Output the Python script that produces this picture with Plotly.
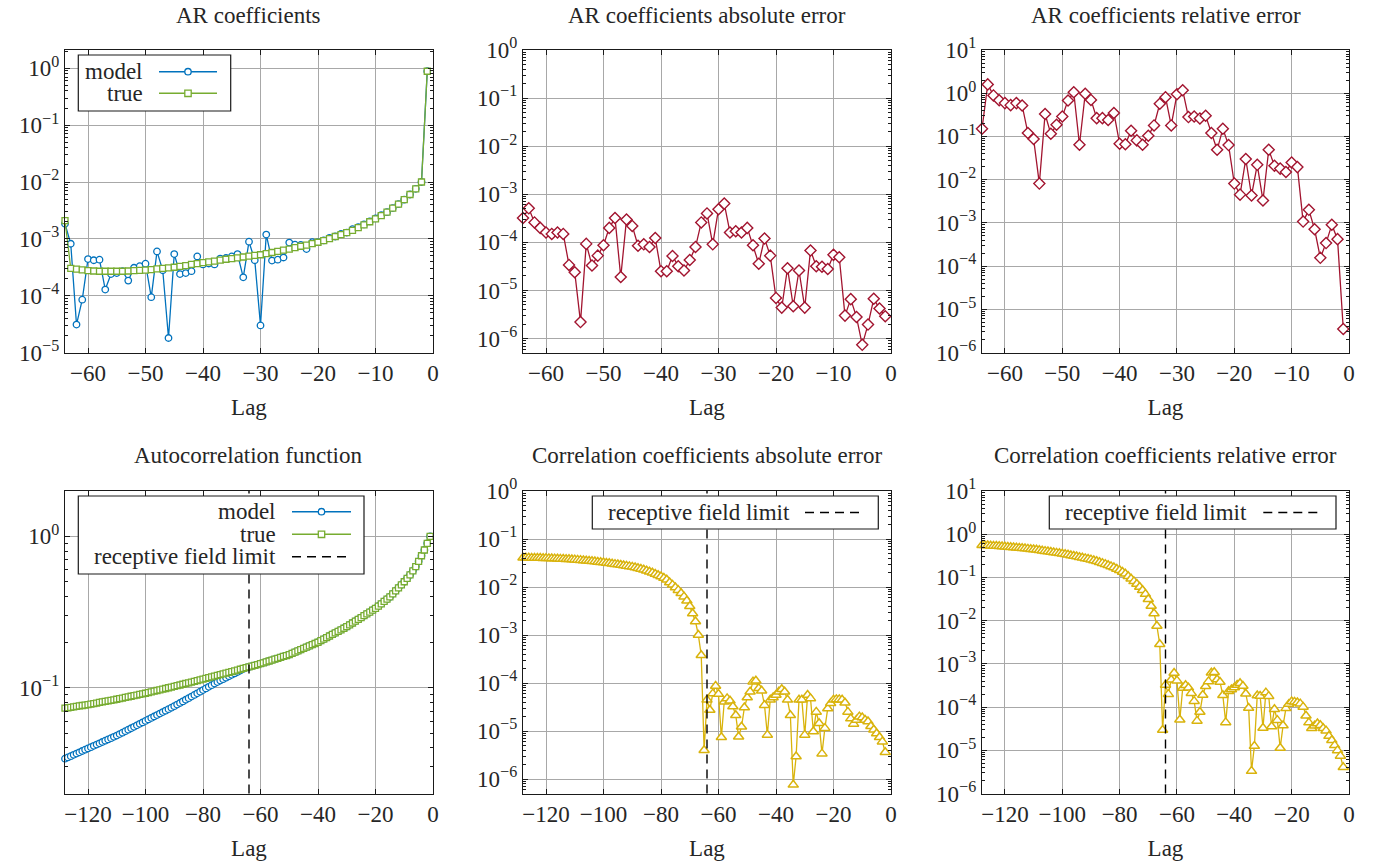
import math
import plotly.graph_objects as go

W, H = 1376, 863
OFF = 0  # body margin is removed in the page, so figure pixels == page pixels

# ---------------- data ----------------
ar_lags = list(range(-64, 0))

ar_model = [1.84e-3, 8.2e-4, 3.1e-5, 8.5e-5, 4.4e-4, 4.2e-4, 4.3e-4, 1.28e-4, 2.4e-4, 2.5e-4,
            2.7e-4, 1.84e-4, 3.1e-4, 3.3e-4, 3.65e-4, 9.4e-5, 6.0e-4, 2.8e-4, 1.8e-5, 5.4e-4,
            2.4e-4, 2.5e-4, 2.7e-4, 4.9e-4, 3.55e-4, 3.68e-4, 3.55e-4, 4.5e-4, 4.6e-4, 4.9e-4,
            5.4e-4, 2.1e-4, 8.9e-4, 4.2e-4, 3.0e-5, 1.19e-3, 4.15e-4, 4.3e-4, 4.7e-4, 8.6e-4,
            7.9e-4, 7.8e-4, 6.6e-4, 8.75e-4, 8.78e-4, 9.37e-4, 1.04e-3, 1.10e-3, 1.22e-3, 1.29e-3,
            1.48e-3, 1.61e-3, 1.79e-3, 2.03e-3, 2.29e-3, 2.62e-3, 2.95e-3, 3.48e-3, 4.07e-3, 4.90e-3,
            6.03e-3, 7.6e-3, 1.0e-2, 0.89]

ar_true = [2.09e-3, 3.02e-4, 2.92e-4, 2.85e-4, 2.75e-4, 2.72e-4, 2.69e-4, 2.69e-4, 2.69e-4, 2.69e-4,
           2.69e-4, 2.72e-4, 2.75e-4, 2.79e-4, 2.82e-4, 2.88e-4, 2.95e-4, 3.02e-4, 3.09e-4, 3.16e-4,
           3.27e-4, 3.39e-4, 3.55e-4, 3.67e-4, 3.80e-4, 3.94e-4, 4.07e-4, 4.22e-4, 4.37e-4, 4.47e-4,
           4.62e-4, 4.79e-4, 4.95e-4, 5.13e-4, 5.25e-4, 5.50e-4, 5.75e-4, 6.03e-4, 6.31e-4, 6.61e-4,
           7.00e-4, 7.41e-4, 7.76e-4, 8.22e-4, 8.71e-4, 9.33e-4, 1.01e-3, 1.10e-3, 1.19e-3, 1.29e-3,
           1.41e-3, 1.58e-3, 1.76e-3, 2.00e-3, 2.24e-3, 2.57e-3, 2.95e-3, 3.47e-3, 4.07e-3, 4.90e-3,
           6.03e-3, 7.59e-3, 1.00e-2, 0.89]

ar_abs_err = [3.2e-4, 5.1e-4, 2.6e-4, 2.0e-4, 1.6e-4, 1.5e-4, 1.6e-4, 1.5e-4, 3.4e-5, 2.4e-5,
              2.2e-6, 9.3e-5, 3.3e-5, 5.3e-5, 8.7e-5, 2.0e-4, 3.2e-4, 1.9e-5, 3.0e-4, 2.2e-4,
              8.5e-5, 9.1e-5, 8.0e-5, 1.23e-4, 2.5e-5, 2.5e-5, 5.2e-5, 3.2e-5, 2.6e-5, 4.3e-5,
              8.0e-5, 2.6e-4, 4.0e-4, 9.1e-5, 4.9e-4, 6.4e-4, 1.6e-4, 1.7e-4, 1.6e-4, 2.0e-4,
              8.7e-5, 3.6e-5, 1.2e-4, 5.3e-5, 7.0e-6, 4.4e-6, 2.9e-5, 4.7e-6, 2.6e-5, 4.4e-6,
              6.8e-5, 3.2e-5, 3.1e-5, 2.8e-5, 5.5e-5, 4.9e-5, 3.0e-6, 6.6e-6, 2.8e-6, 7.4e-7,
              1.95e-6, 6.7e-6, 4.2e-6, 2.9e-6]

ar_rel_err = [0.15, 1.6, 0.89, 0.69, 0.59, 0.53, 0.59, 0.52, 0.12, 0.087,
              8.1e-3, 0.33, 0.115, 0.186, 0.29, 0.68, 1.05, 0.064, 0.97, 0.70,
              0.265, 0.265, 0.24, 0.35, 0.068, 0.066, 0.135, 0.081, 0.064, 0.104,
              0.18, 0.57, 0.81, 0.18, 0.95, 1.17, 0.28, 0.29, 0.26, 0.30,
              0.12, 0.049, 0.15, 0.063, 8.1e-3, 4.5e-3, 0.030, 4.3e-3, 0.022, 3.3e-3,
              0.049, 0.021, 0.018, 0.015, 0.025, 0.0195, 1.07e-3, 2.0e-3, 7.1e-4, 1.55e-4,
              3.4e-4, 9.0e-4, 4.2e-4, 3.5e-6]

acf_lags = list(range(-128, 0))

acf_model = [0.03388, 0.03455, 0.03524, 0.03593, 0.03664, 0.03737, 0.03811, 0.03886,
             0.03963, 0.04041, 0.04121, 0.04203, 0.04285, 0.04370, 0.04457, 0.04545, 0.04634, 0.04726,
             0.04819, 0.04928, 0.05039, 0.05153, 0.05269, 0.05388, 0.05510, 0.05634, 0.05761, 0.05891,
             0.06026, 0.06162, 0.06301, 0.06443, 0.06589, 0.06737, 0.06889, 0.07045, 0.07204, 0.07366,
             0.07534, 0.07722, 0.07914, 0.08111, 0.08313, 0.08520, 0.08732, 0.08950, 0.09173, 0.09401,
             0.09638, 0.09879, 0.10125, 0.10377, 0.10636, 0.10889, 0.1113, 0.1138, 0.1163, 0.1189,
             0.1215, 0.1242, 0.1269, 0.1297, 0.1326, 0.1355,
             0.1371, 0.1388, 0.1404, 0.1421,
             0.1439, 0.1459, 0.1479, 0.1500, 0.1521, 0.1542, 0.1563, 0.1585, 0.1607, 0.1629,
             0.1652, 0.1683, 0.1715, 0.1748, 0.1781, 0.1816, 0.1850, 0.1886, 0.1922, 0.1958,
             0.1995, 0.2043, 0.2092, 0.2142, 0.2194, 0.2246, 0.2300, 0.2356, 0.2412, 0.2470,
             0.2529, 0.2601, 0.2674, 0.2750, 0.2828, 0.2907, 0.2989, 0.3074, 0.3161, 0.3250,
             0.3342, 0.3461, 0.3584, 0.3712, 0.3844, 0.3981, 0.4169, 0.4365, 0.4571, 0.4786,
             0.5012, 0.5280, 0.5559, 0.5922, 0.6310, 0.6839, 0.7447, 0.8128, 0.8995, 1.0]

acf_true = [0.0731, 0.0736, 0.0741, 0.0746, 0.0752, 0.0757, 0.0762, 0.0767,
            0.0773, 0.0779, 0.0785, 0.0791, 0.0798, 0.0804, 0.0811, 0.0818, 0.0824, 0.0831,
            0.0838, 0.0845, 0.0853, 0.0861, 0.0869, 0.0877, 0.0885, 0.0893, 0.0902, 0.0910,
            0.0918, 0.0928, 0.0938, 0.0947, 0.0957, 0.0967, 0.0977, 0.0987, 0.0998, 0.1008,
            0.1019, 0.1030, 0.1041, 0.1053, 0.1065, 0.1076, 0.1088, 0.1100, 0.1113, 0.1125,
            0.1138, 0.1151, 0.1164, 0.1178, 0.1191, 0.1205, 0.1219, 0.1233, 0.1247, 0.1262,
            0.1276, 0.1292, 0.1307, 0.1323, 0.1339, 0.1355, 0.1371, 0.1388, 0.1404, 0.1421,
            0.1439, 0.1459, 0.1479, 0.1500, 0.1521, 0.1542, 0.1563, 0.1585, 0.1607, 0.1629,
            0.1652, 0.1683, 0.1715, 0.1748, 0.1781, 0.1816, 0.1850, 0.1886, 0.1922, 0.1958,
            0.1995, 0.2043, 0.2092, 0.2142, 0.2194, 0.2246, 0.2300, 0.2356, 0.2412, 0.2470,
            0.2529, 0.2601, 0.2674, 0.2750, 0.2828, 0.2907, 0.2989, 0.3074, 0.3161, 0.3250,
            0.3342, 0.3461, 0.3584, 0.3712, 0.3844, 0.3981, 0.4169, 0.4365, 0.4571, 0.4786,
            0.5012, 0.5280, 0.5559, 0.5922, 0.6310, 0.6839, 0.7447, 0.8128, 0.8995, 1.0]

corr_err_lags = list(range(-128, -1))

corr_abs_err = [4.074e-2, 4.064e-2, 4.055e-2, 4.036e-2, 4.027e-2, 4.018e-2, 4.009e-2, 3.990e-2,
                3.981e-2, 3.954e-2, 3.936e-2, 3.908e-2, 3.882e-2, 3.855e-2, 3.828e-2, 3.802e-2, 3.776e-2, 3.741e-2,
                3.715e-2, 3.673e-2, 3.631e-2, 3.581e-2, 3.532e-2, 3.483e-2, 3.436e-2, 3.388e-2, 3.334e-2, 3.289e-2,
                3.236e-2, 3.177e-2, 3.119e-2, 3.062e-2, 2.999e-2, 2.938e-2, 2.877e-2, 2.818e-2, 2.754e-2, 2.692e-2,
                2.630e-2, 2.547e-2, 2.460e-2, 2.371e-2, 2.280e-2, 2.188e-2, 2.084e-2, 1.982e-2, 1.875e-2, 1.766e-2,
                1.660e-2, 1.535e-2, 1.413e-2, 1.245e-2, 1.109e-2, 9.77e-3, 8.61e-3, 7.41e-3, 6.31e-3, 5.19e-3,
                3.98e-3, 2.82e-3, 1.91e-3, 1.00e-3, 3.80e-4,
                3.98e-6, 4.47e-5, 2.75e-5, 6.03e-5, 8.71e-5, 5.89e-5, 7.41e-6, 4.07e-5, 4.79e-5, 4.27e-5,
                3.24e-5, 2.14e-5, 7.59e-6, 1.23e-5, 3.09e-5, 5.01e-5, 6.61e-5, 1.07e-4, 1.12e-4, 7.76e-5,
                6.92e-5, 3.47e-5, 8.32e-6, 4.47e-5, 5.01e-5, 5.62e-5, 6.61e-5, 7.41e-5, 6.61e-5, 4.47e-5,
                2.14e-5, 7.59e-7, 2.95e-6, 4.47e-5, 4.47e-5, 8.32e-6, 5.62e-5, 4.79e-5, 9.77e-6, 2.51e-5,
                1.45e-5, 3.39e-6, 1.15e-5, 2.95e-5, 3.80e-5, 4.47e-5, 4.57e-5, 4.57e-5, 4.47e-5, 3.89e-5,
                2.51e-5, 1.82e-5, 1.41e-5, 1.70e-5, 2.00e-5, 1.91e-5, 1.70e-5, 1.58e-5, 1.26e-5, 1.07e-5,
                8.91e-6, 7.41e-6, 6.03e-6, 3.63e-6]

corr_rel_err = [0.557, 0.552, 0.547, 0.541, 0.536, 0.531, 0.526, 0.520,
                0.515, 0.508, 0.501, 0.494, 0.486, 0.479, 0.472, 0.465, 0.458, 0.450,
                0.444, 0.435, 0.426, 0.416, 0.406, 0.397, 0.388, 0.379, 0.370, 0.361,
                0.352, 0.342, 0.333, 0.323, 0.313, 0.304, 0.294, 0.285, 0.276, 0.267,
                0.258, 0.247, 0.236, 0.225, 0.214, 0.203, 0.192, 0.180, 0.169, 0.157,
                0.146, 0.133, 0.121, 0.106, 0.0931, 0.0811, 0.0706, 0.0601, 0.0506, 0.0411,
                0.0312, 0.0218, 0.0146, 7.55e-3, 2.84e-3,
                2.94e-5, 3.26e-4, 1.99e-4, 4.29e-4, 6.12e-4, 4.09e-4, 5.08e-5, 2.75e-4, 3.19e-4, 2.81e-4,
                2.10e-4, 1.37e-4, 4.79e-5, 7.66e-5, 1.90e-4, 3.03e-4, 3.93e-4, 6.25e-4, 6.41e-4, 4.36e-4,
                3.81e-4, 1.87e-4, 4.42e-5, 2.32e-4, 2.56e-4, 2.82e-4, 3.24e-4, 3.54e-4, 3.08e-4, 2.04e-4,
                9.53e-5, 3.30e-6, 1.25e-5, 1.85e-4, 1.81e-4, 3.29e-5, 2.16e-4, 1.79e-4, 3.56e-5, 8.89e-5,
                4.98e-5, 1.13e-5, 3.73e-5, 9.33e-5, 1.17e-4, 1.34e-4, 1.32e-4, 1.28e-4, 1.20e-4, 1.01e-4,
                6.31e-5, 4.37e-5, 3.24e-5, 3.72e-5, 4.17e-5, 3.80e-5, 3.22e-5, 2.85e-5, 2.13e-5, 1.70e-5,
                1.30e-5, 9.95e-6, 7.41e-6, 4.04e-6]

receptive_field_limit = -64

panel_titles = ["AR coefficients", "AR coefficients absolute error", "AR coefficients relative error",
                "Autocorrelation function", "Correlation coefficients absolute error",
                "Correlation coefficients relative error"]

# ---------------- styling ----------------
FONT = "Liberation Serif"
FS = 23
TXT = "#262626"
AXC = "#1a1a1a"
BLUE = "#0072BD"
GREEN = "#77AC30"
RED = "#A2142F"
YELLOW = "#D9B30C"
GRID = "#a8a8a8"

cols = [(65, 433), (523, 891), (982, 1349)]
rows = [(50, 352.5), (491, 793.5)]
yranges = [(-5, 0.323), (-6.29, 0), (-6, 1), (-1.70, 0.30), (-6.30, 0), (-6, 1)]
xranges = [(-64, 0)] * 3 + [(-128, 0)] * 3
xticks = [list(range(-60, 1, 10))] * 3 + [list(range(-120, 1, 20))] * 3


def fx(p):
    return (p - OFF) / W


def fy(p):
    return 1 - (p - OFF) / H


def sup(k):
    s = str(k).replace("-", "\u2212")
    return "10<sup>" + s + "</sup>"


fig = go.Figure()
layout = dict(width=W, height=H, margin=dict(l=0, r=0, t=0, b=0),
              paper_bgcolor="white", plot_bgcolor="white", showlegend=False,
              font=dict(family=FONT, size=FS, color=TXT))
annotations = []
shapes = []

for i in range(6):
    c0, c1 = cols[i % 3]
    r0, r1 = rows[i // 3]
    lo, hi = yranges[i]
    ks = list(range(math.ceil(lo - 1e-9), math.floor(hi + 1e-9) + 1))
    majors = [10.0 ** k for k in ks]
    labels = [sup(k) for k in ks]
    minors = []
    for k in range(math.floor(lo), math.ceil(hi) + 1):
        for m in range(2, 10):
            v = m * 10.0 ** k
            if lo <= math.log10(v) <= hi:
                minors.append(v)
    sfx = "" if i == 0 else str(i + 1)
    layout["xaxis" + sfx] = dict(
        domain=[fx(c0), fx(c1)], range=list(xranges[i]), anchor="y" + sfx,
        showline=True, linecolor=AXC, linewidth=1.2, mirror="allticks",
        ticks="inside", ticklen=5, tickwidth=1, tickcolor=AXC,
        tickmode="array", tickvals=xticks[i],
        showgrid=True, gridcolor=GRID, gridwidth=1, zeroline=False,
        tickfont=dict(family=FONT, size=FS, color=TXT), ticklabelstandoff=0,
        title=dict(text="Lag", standoff=13, font=dict(family=FONT, size=FS, color=TXT)),
        automargin=False)
    layout["yaxis" + sfx] = dict(
        domain=[fy(r1), fy(r0)], range=[lo, hi], type="log", anchor="x" + sfx,
        showline=True, linecolor=AXC, linewidth=1.2, mirror="allticks",
        ticks="inside", ticklen=5, tickwidth=1, tickcolor=AXC,
        tickmode="array", tickvals=majors, ticktext=labels,
        showgrid=True, gridcolor=GRID, gridwidth=1, zeroline=False,
        tickfont=dict(family=FONT, size=FS, color=TXT), ticklabelstandoff=0,
        minor=dict(tickmode="array", tickvals=minors, ticks="inside", ticklen=3,
                   tickwidth=1, tickcolor=AXC, showgrid=False),
        automargin=False)
    annotations.append(dict(text=panel_titles[i], xref="paper", yref="paper",
                            x=fx((c0 + c1) / 2), y=fy(r0 - 35), xanchor="center", yanchor="middle",
                            showarrow=False, font=dict(family=FONT, size=FS, color=TXT)))


def series(x, y, color, symbol, size, ax, lw=1.3):
    return go.Scatter(x=x, y=y, mode="lines+markers", xaxis="x" + ax, yaxis="y" + ax,
                      line=dict(color=color, width=1.3), cliponaxis=False,
                      marker=dict(symbol=symbol, size=size, color="white",
                                  line=dict(color=color, width=lw)))


fig.add_trace(series(ar_lags, ar_model, BLUE, "circle", 6.5, ""))
fig.add_trace(series(ar_lags, ar_true, GREEN, "square", 6, ""))
fig.add_trace(series(ar_lags, ar_abs_err, RED, "diamond", 8.5, "2", 1.4))
fig.add_trace(series(ar_lags, ar_rel_err, RED, "diamond", 8.5, "3", 1.4))
fig.add_trace(series(acf_lags, acf_model, BLUE, "circle", 6.5, "4"))
fig.add_trace(series(acf_lags, acf_true, GREEN, "square", 6, "4"))
fig.add_trace(series(corr_err_lags, corr_abs_err, YELLOW, "triangle-up", 9, "5", 1.5))
fig.add_trace(series(corr_err_lags, corr_rel_err, YELLOW, "triangle-up", 9, "6", 1.5))

# receptive field limit lines
for ax in ["4", "5", "6"]:
    shapes.append(dict(type="line", xref="x" + ax, yref="y" + ax + " domain",
                       x0=receptive_field_limit, x1=receptive_field_limit, y0=0, y1=1,
                       line=dict(color="black", width=1.4, dash="9px,6px"), layer="above"))


# ---------------- legends (pgfplots style: text, then sample) ----------------
def box(x0, x1, y0, y1):
    shapes.append(dict(type="rect", xref="paper", yref="paper", x0=fx(x0), x1=fx(x1),
                       y0=fy(y1), y1=fy(y0), fillcolor="white",
                       line=dict(color=AXC, width=1.2), layer="above"))


def entry(xr, y, text):
    annotations.append(dict(text=text, xref="paper", yref="paper", x=fx(xr), y=fy(y),
                            xanchor="right", yanchor="middle", showarrow=False,
                            font=dict(family=FONT, size=FS, color=TXT)))


def sample(x0, x1, y, color, marker=None, dash=None):
    shapes.append(dict(type="line", xref="paper", yref="paper", x0=fx(x0), x1=fx(x1),
                       y0=fy(y), y1=fy(y), layer="above",
                       line=dict(color=color, width=1.4, dash=dash if dash else "solid")))
    if marker:
        xc = (x0 + x1) / 2
        r = 3.2
        shapes.append(dict(type="circle" if marker == "circle" else "rect",
                           xref="paper", yref="paper", x0=fx(xc - r), x1=fx(xc + r),
                           y0=fy(y + r), y1=fy(y - r), fillcolor="white", layer="above",
                           line=dict(color=color, width=1.3)))


box(78.3, 230.7, 55, 111)
entry(145, 71.7, "model")
entry(145, 93.3, "true")
sample(159, 217, 71.7, BLUE, "circle")
sample(159, 217, 93.3, GREEN, "square")

box(78.3, 364, 496, 574)
entry(278.3, 511.7, "model")
entry(278.3, 534.3, "true")
entry(278.3, 556.7, "receptive field limit")
sample(292, 351, 511.7, BLUE, "circle")
sample(292, 351, 534.3, GREEN, "square")
sample(292, 346, 556.7, "black", dash="9px,6px")

box(592.3, 878.3, 496, 529)
entry(791.7, 512.5, "receptive field limit")
sample(805, 860, 512.5, "black", dash="9px,6px")

box(1049.3, 1336, 496, 529)
entry(1249.3, 512.5, "receptive field limit")
sample(1263.3, 1318.3, 512.5, "black", dash="9px,6px")

layout["annotations"] = annotations
layout["shapes"] = shapes
fig.update_layout(**layout)
fig.write_html("out.html",
               config={"displayModeBar": False, "staticPlot": True},
               post_script="document.body.style.margin='0px';document.body.style.padding='0px';")
